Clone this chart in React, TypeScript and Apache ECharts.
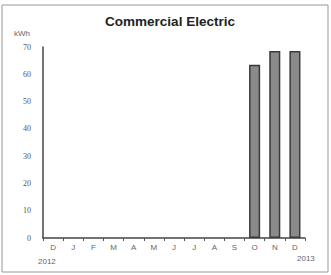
import React, { useEffect, useRef } from "react";
import * as echarts from "echarts";

const months = ["D", "J", "F", "M", "A", "M", "J", "J", "A", "S", "O", "N", "D"];
const usage = [null, null, null, null, null, null, null, null, null, null, 63.5, 68.5, 68.5];
const yTicks = [0, 10, 20, 30, 40, 50, 60, 70];
const unitLabel = "kWh";
const startYear = "2012";
const endYear = "2013";

export default function App() {
  const ref = useRef<HTMLDivElement>(null);
  useEffect(() => {
    document.body.style.margin = "0";
    const chart = echarts.init(ref.current!, null, { renderer: "svg" });
    chart.setOption({
      animation: false,
      backgroundColor: "#fff",
      title: {
        text: "Commercial Electric",
        left: 165,
        textAlign: "center",
        top: 9,
        textStyle: { fontFamily: "Liberation Sans", fontWeight: "bold", fontSize: 13.5, color: "#222" },
      },
      grid: { left: 43, right: 26, top: 47, bottom: 37 },
      xAxis: {
        type: "category",
        data: months,
        axisLine: { lineStyle: { color: "#444", width: 1.5 } },
        axisTick: { show: true, length: 3, lineStyle: { color: "#555" } },
        axisLabel: { fontSize: 8, color: "#666", margin: 5, fontFamily: "Liberation Sans" },
      },
      yAxis: {
        type: "value",
        min: yTicks[0],
        max: yTicks[yTicks.length - 1],
        interval: 10,
        axisLine: { show: true, lineStyle: { color: "#444", width: 1.5 } },
        axisTick: { show: false },
        splitLine: { show: false },
        axisLabel: { fontSize: 8, color: "#555", margin: 12, fontFamily: "Liberation Serif" },
      },
      series: [
        {
          type: "bar",
          data: usage,
          barWidth: "55%",
          itemStyle: { color: "#8a8a8a", borderColor: "#3a3a3a", borderWidth: 1.5 },
        },
      ],
      graphic: [
        {
          type: "rect",
          shape: { x: 2, y: 5, width: 326, height: 267 },
          style: { fill: "none", stroke: "#999", lineWidth: 1 },
          silent: true,
        },
        {
          type: "text",
          left: 14,
          top: 29,
          style: { text: unitLabel, fontSize: 8, fill: "#666", fontFamily: "Liberation Sans" },
        },
        {
          type: "text",
          left: 38,
          top: 257,
          style: { text: startYear, fontSize: 8, fill: "#666", fontFamily: "Liberation Sans" },
        },
        {
          type: "text",
          left: 297,
          top: 254,
          style: { text: endYear, fontSize: 8, fill: "#666", fontFamily: "Liberation Sans" },
        },
      ],
    });
    return () => chart.dispose();
  }, []);
  return <div ref={ref} style={{ width: 331, height: 275 }} />;
}
